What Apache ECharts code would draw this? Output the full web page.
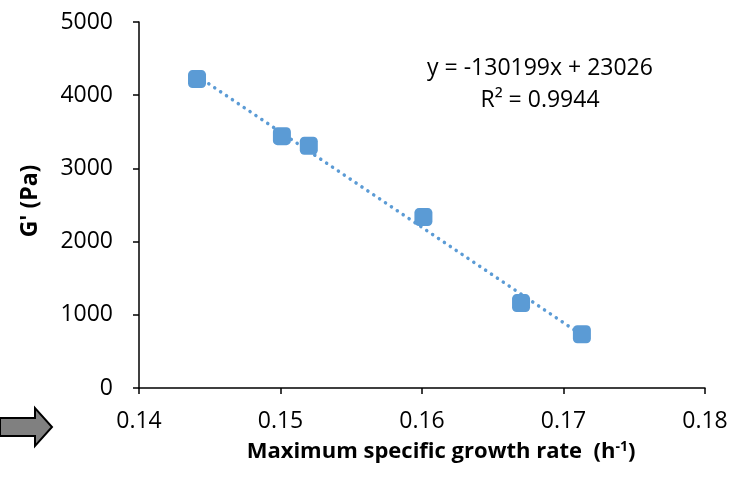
<!DOCTYPE html>
<html><head><meta charset="utf-8">
<script src="https://cdn.jsdelivr.net/npm/echarts@6/dist/echarts.min.js"></script>
<style>html,body{margin:0;padding:0;background:#fff}#c{width:742px;height:477px}</style>
</head><body><div id="c"></div>
<script>
var growthRate = [0.1441, 0.1501, 0.1520, 0.1601, 0.1670, 0.1713];
var gPrime = [4220, 3440, 3310, 2335, 1160, 735];
var trendX = [0.1441, 0.1713];
var trendY = [4264, 723];
var xTicks = {min: 0.14, max: 0.18, interval: 0.01};
var yTicks = {min: 0, max: 5000, interval: 1000};
var eqLine1 = 'y = -130199x + 23026';
var eqLine2 = 'R² = 0.9944';
var xName = 'Maximum specific growth rate  ';
var yName = "G' (Pa)";

var FONT = 'Open Sans';
var chart = echarts.init(document.getElementById('c'));
var pts = growthRate.map(function(x, i){ return [x, gPrime[i]]; });
var trend = trendX.map(function(x, i){ return [x, trendY[i]]; });
var axisLine = {lineStyle: {color: '#000', width: 1.5}};
chart.setOption({
  animation: false,
  grid: {left: 139, right: 37, top: 22, bottom: 89},
  xAxis: {
    type: 'value', min: xTicks.min, max: xTicks.max, interval: xTicks.interval,
    axisLine: axisLine, axisTick: {show: true, length: 6, lineStyle: {color: '#000', width: 1.5}},
    splitLine: {show: false},
    axisLabel: {color: '#000', fontSize: 23, fontFamily: FONT, margin: 22,
      formatter: function(v){ return v.toFixed(2); }}
  },
  yAxis: {
    type: 'value', min: yTicks.min, max: yTicks.max, interval: yTicks.interval,
    axisLine: Object.assign({show: true}, axisLine),
    axisTick: {show: true, length: 6, lineStyle: {color: '#000', width: 1.5}},
    splitLine: {show: false},
    axisLabel: {color: '#000', fontSize: 23, fontFamily: FONT, margin: 26,
      formatter: function(v){ return String(v); }}
  },
  series: [
    {type: 'line', data: trend, symbol: 'none', z: 1,
     lineStyle: {color: '#5B9BD5', width: 3.5, type: [0.1, 7], cap: 'round'}},
    {type: 'scatter', data: pts, symbol: 'roundRect', symbolSize: 18, z: 2,
     itemStyle: {color: '#5B9BD5', opacity: 1}}
  ],
  graphic: [
    {type: 'text', x: 540, y: 68, style: {text: eqLine1, font: '23px "' + FONT + '"', fill: '#000', align: 'center', verticalAlign: 'middle'}},
    {type: 'text', x: 540, y: 100, style: {text: eqLine2, font: '23px "' + FONT + '"', fill: '#000', align: 'center', verticalAlign: 'middle'}},
    {type: 'text', x: 30, y: 201, rotation: Math.PI / 2,
     style: {text: yName, font: 'bold 23px "' + FONT + '"', fill: '#000', align: 'center', verticalAlign: 'middle'}},
    {type: 'text', x: 441, y: 452,
     style: {text: '{a|' + xName + '(h}{s|-1}{a|)}', align: 'center', verticalAlign: 'middle',
       rich: {a: {font: 'bold 22px "' + FONT + '"', color: '#000'},
              s: {font: 'bold 14px "' + FONT + '"', color: '#000', verticalAlign: 'top', padding: [0, 0, 10, 0]}}}},
    {type: 'polygon', shape: {points: [[0, 418], [35, 418], [35, 408], [52, 427], [35, 446], [35, 436], [0, 436]]},
     style: {fill: '#808080', stroke: '#000', lineWidth: 2}}
  ]
});
</script></body></html>
